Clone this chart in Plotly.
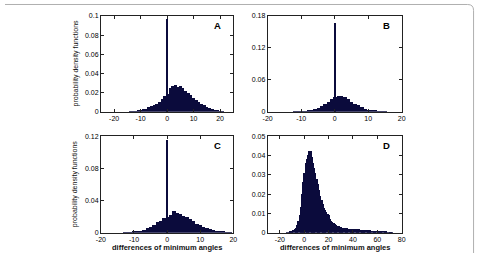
import plotly.graph_objects as go

# ---- data ----
a_x = list(range(-14, 22))
a_y = [0.0002, 0.0004, 0.0007, 0.0012, 0.0018, 0.0025, 0.0033, 0.0045, 0.0055, 0.0068,
       0.0082, 0.010, 0.013, 0.016, 0.019, 0.025, 0.027, 0.028, 0.026, 0.027,
       0.025, 0.022, 0.020, 0.017, 0.014, 0.012, 0.010, 0.008, 0.0065, 0.005,
       0.0035, 0.0025, 0.0017, 0.001, 0.0006, 0.0003]
a_peak = 0.097

b_x = list(range(-12, 16))
b_y = [0.0002, 0.0004, 0.0008, 0.0013, 0.002, 0.0032, 0.005, 0.0075, 0.011, 0.015,
       0.019, 0.023, 0.027, 0.030, 0.030, 0.027, 0.023, 0.019, 0.015, 0.012,
       0.0085, 0.006, 0.004, 0.0027, 0.0017, 0.001, 0.0005, 0.0002]
b_peak = 0.167

c_x = list(range(-13, 20))
c_y = [0.0002, 0.0004, 0.0007, 0.0012, 0.0018, 0.0027, 0.0038, 0.0055, 0.0075, 0.0095,
       0.0135, 0.015, 0.018, 0.020, 0.022, 0.027, 0.024, 0.023, 0.021, 0.019,
       0.0165, 0.014, 0.0115, 0.0095, 0.0075, 0.006, 0.0045, 0.0035, 0.0025, 0.0017,
       0.001, 0.0006, 0.0003]
c_peak = 0.1147

d_x = list(range(-14, 73))
d_y = [0.0002, 0.0003, 0.0005, 0.0007, 0.001, 0.0014, 0.0019, 0.0027, 0.004, 0.006,
       0.009, 0.0135, 0.020, 0.026, 0.031, 0.036, 0.038, 0.040, 0.0425, 0.042,
       0.039, 0.036, 0.0335, 0.031, 0.028, 0.025, 0.022, 0.019, 0.017, 0.015,
       0.013, 0.012, 0.0105, 0.0095, 0.009, 0.0072, 0.0063, 0.0056, 0.005, 0.0045,
       0.004, 0.0036, 0.0033, 0.003, 0.0028, 0.0027, 0.0026, 0.0025, 0.0024, 0.0023,
       0.0022, 0.0022, 0.0021, 0.002, 0.002, 0.0019, 0.0018, 0.0018, 0.0017, 0.0017,
       0.0016, 0.0016, 0.0015, 0.0015, 0.0014, 0.0013, 0.0013, 0.0012, 0.0012, 0.0011,
       0.0011, 0.001, 0.001, 0.0009, 0.0009, 0.0008, 0.0008, 0.0007, 0.0007, 0.0006,
       0.0005, 0.0005, 0.0004, 0.0004, 0.0003, 0.0002, 0.0002]

panel_labels = ["A", "B", "C", "D"]
x_title = "differences of minimum angles"
y_title = "probability density functions"

a_xticks = [-20, -10, 0, 10, 20]
b_xticks = [-20, -10, 0, 10, 20]
c_xticks = [-20, -10, 0, 10, 20]
d_xticks = [-20, 0, 20, 40, 60, 80]
a_yticks = [0, 0.02, 0.04, 0.06, 0.08, 0.1]
b_yticks = [0, 0.06, 0.12, 0.18]
c_yticks = [0, 0.04, 0.08, 0.12]
d_yticks = [0, 0.01, 0.02, 0.03, 0.04, 0.05]

# ---- layout ----
W, H = 480, 256
BAR = "#0b0b3c"
FONT = "Liberation Sans, Arial, sans-serif"

def px_x(p):
    return p / W

def px_y(p):
    return 1 - p / H

dom_x = [[px_x(97.7), px_x(232.7)], [px_x(267.7), px_x(404.3)]]
dom_y = [[px_y(110.7), px_y(12.3)], [px_y(235.3), px_y(135.8)]]

fig = go.Figure()

panels = [
    (a_x, a_y, a_peak, [-25, 25], a_xticks, [0, 0.1], a_yticks, 0, 0),
    (b_x, b_y, b_peak, [-20, 20], b_xticks, [0, 0.18], b_yticks, 1, 0),
    (c_x, c_y, c_peak, [-20, 20], c_xticks, [0, 0.12], c_yticks, 0, 1),
    (d_x, d_y, None, [-30, 80], d_xticks, [0, 0.05], d_yticks, 1, 1),
]

def fmt_x(v):
    return str(v)

def fmt_y(v):
    return "0" if v == 0 else "%g" % v

axis_common = dict(
    showline=True, linecolor="#222", linewidth=0.8, mirror="ticks",
    ticks="inside", ticklen=3, tickwidth=0.8, tickcolor="#222",
    showgrid=False, zeroline=False,
    tickfont=dict(family=FONT, size=7, color="#000"),
)

for i, (xs, ys, peak, xr, xt, yr, yt, col, row) in enumerate(panels):
    n = "" if i == 0 else str(i + 1)
    xa, ya = "x" + n, "y" + n
    fig.add_trace(go.Bar(x=xs, y=ys, width=1.0, marker=dict(color=BAR, line=dict(width=0)),
                         xaxis=xa, yaxis=ya, showlegend=False, hoverinfo="skip"))
    if peak is not None:
        fig.add_trace(go.Bar(x=[0], y=[peak], width=0.45, marker=dict(color=BAR, line=dict(width=0)),
                             xaxis=xa, yaxis=ya, showlegend=False, hoverinfo="skip"))
    fig.layout["xaxis" + n] = dict(domain=dom_x[col], anchor=ya, range=xr,
                                   tickvals=xt, ticktext=[fmt_x(v) for v in xt], **axis_common)
    fig.layout["yaxis" + n] = dict(domain=dom_y[row], anchor=xa, range=yr,
                                   tickvals=yt, ticktext=[fmt_y(v) for v in yt], **axis_common)
    fig.add_annotation(x=dom_x[col][1] - 16 / W, y=dom_y[row][1] - 10 / H, xref="paper", yref="paper",
                       text="<b>%s</b>" % panel_labels[i], showarrow=False,
                       font=dict(family=FONT, size=9.5, color="#000"), xanchor="center", yanchor="middle")

# axis titles
for col in range(2):
    fig.add_annotation(x=(dom_x[col][0] + dom_x[col][1]) / 2, y=px_y(250), xref="paper", yref="paper",
                       text="<b>%s</b>" % x_title, showarrow=False,
                       font=dict(family=FONT, size=7.5, color="#111"), xanchor="center", yanchor="middle")
for row in range(2):
    fig.add_annotation(x=px_x(72), y=(dom_y[row][0] + dom_y[row][1]) / 2, xref="paper", yref="paper",
                       text=y_title, showarrow=False, textangle=-90,
                       font=dict(family=FONT, size=7, color="#111"), xanchor="center", yanchor="middle")

# frame (top and right edges, rounded corner)
r = 6
fig.add_shape(type="path", xref="paper", yref="paper",
              path="M 0,%f L %f,%f Q %f,%f %f,%f L %f,0" % (
                  px_y(0.5), px_x(477.5 - r), px_y(0.5), px_x(477.5), px_y(0.5),
                  px_x(477.5), px_y(0.5 + r), px_x(477.5)),
              line=dict(color="#b0b0b0", width=1))

fig.update_layout(width=W, height=H, margin=dict(l=0, r=0, t=0, b=0),
                  paper_bgcolor="white", plot_bgcolor="white",
                  barmode="overlay", bargap=0, showlegend=False)

fig.write_html("out.html", config={"displayModeBar": False})
